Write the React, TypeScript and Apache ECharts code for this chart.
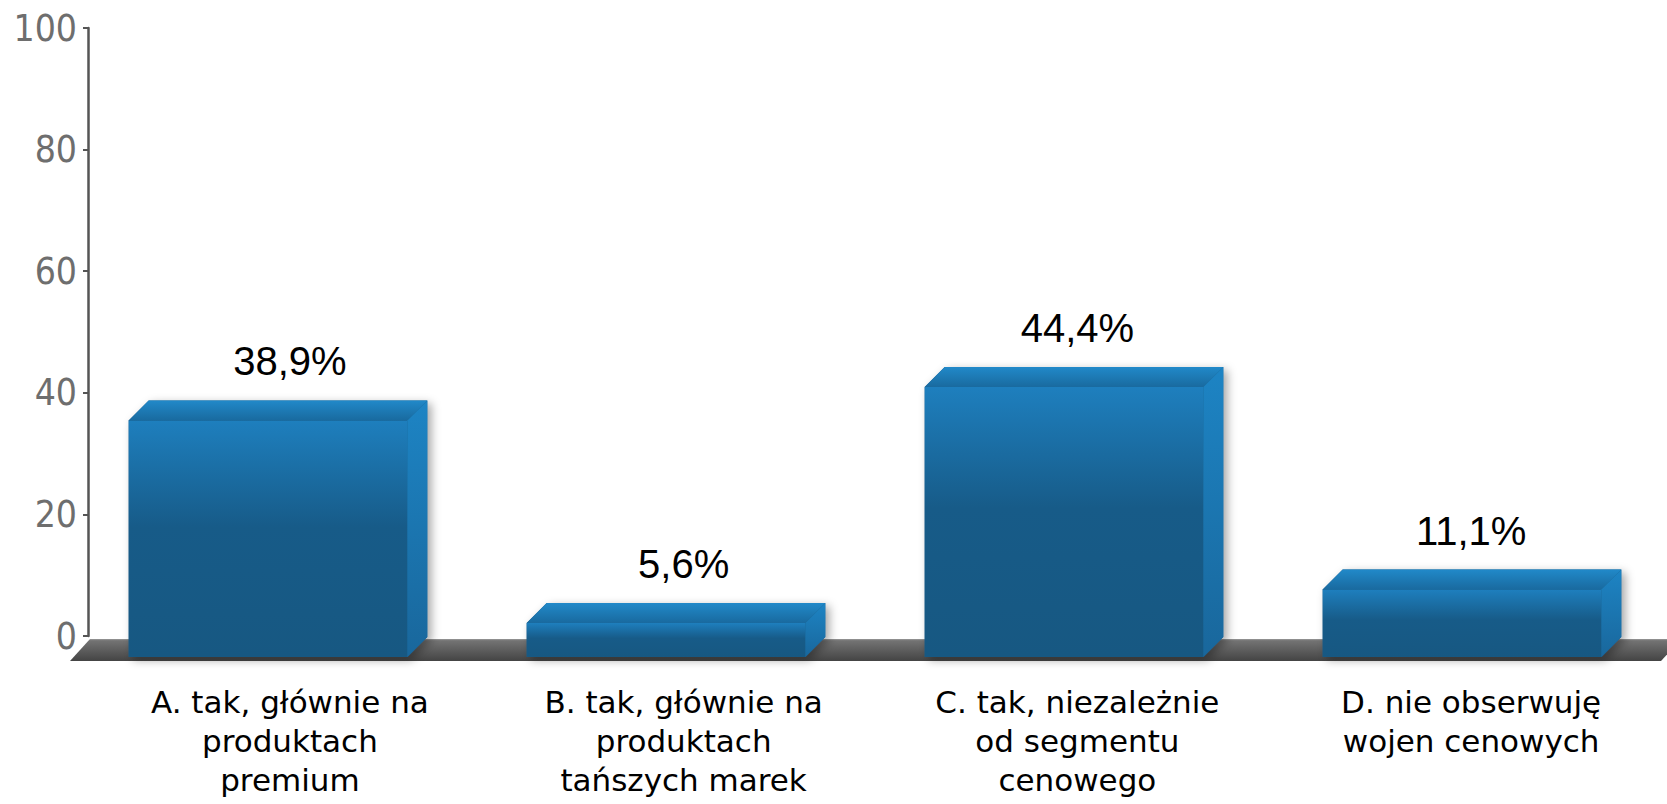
import React, { useEffect, useRef } from "react";
import * as echarts from "echarts";

const categories = [
  "A. tak, głównie na\nproduktach\npremium",
  "B. tak, głównie na\nproduktach\ntańszych marek",
  "C. tak, niezależnie\nod segmentu\ncenowego",
  "D. nie obserwuję\nwojen cenowych",
];
const values = [38.9, 5.6, 44.4, 11.1];
const valueLabels = ["38,9%", "5,6%", "44,4%", "11,1%"];
const yMin = 0;
const yMax = 100;
const yStep = 20;

const DX = 20;
const DY = 20;

function lin(stops: [number, string][]) {
  return {
    type: "linear",
    x: 0,
    y: 0,
    x2: 0,
    y2: 1,
    colorStops: stops.map(([offset, color]) => ({ offset, color })),
  };
}

function renderFloor(params: any, api: any) {
  const cs = params.coordSys;
  const y0 = api.coord([0, 0])[1];
  const xl = cs.x + 1;
  const xr = cs.x + cs.width;
  return {
    type: "polygon",
    shape: {
      points: [
        [xl, y0 + 3],
        [xr, y0 + 3],
        [xr - 20, y0 + 25],
        [xl - 20, y0 + 25],
      ],
    },
    style: {
      fill: lin([
        [0, "#9a9a9a"],
        [0.08, "#737373"],
        [1, "#444444"],
      ]),
    },
  };
}

function renderBar(params: any, api: any) {
  const i = api.value(0);
  const v = api.value(1);
  const top = api.coord([i, v]);
  const base = api.coord([i, 0]);
  const band = api.size([1, 0])[0];
  const w = band * 0.7;
  const c = top[0];
  const bx0 = c - w / 2;
  const bx1 = c + w / 2;
  const by0 = top[1] + 1;
  const by1 = base[1] + 1;
  const fx0 = bx0 - DX;
  const fx1 = bx1 - DX;
  const fy0 = by0 + DY;
  const fy1 = by1 + DY;
  return {
    type: "group",
    children: [
      {
        type: "polygon",
        shape: {
          points: [
            [fx0, fy0],
            [bx0, by0],
            [bx1, by0],
            [bx1, by1],
            [fx1, fy1],
            [fx0, fy1],
          ],
        },
        style: {
          fill: "#175a85",
          shadowBlur: 10,
          shadowColor: "rgba(0,0,0,0.35)",
          shadowOffsetX: 4,
          shadowOffsetY: 3,
        },
      },
      {
        type: "rect",
        shape: { x: fx0, y: fy0, width: fx1 - fx0, height: fy1 - fy0 },
        style: {
          fill: lin([
            [0, "#1e7fbe"],
            [0.45, "#175b88"],
            [1, "#175882"],
          ]),
        },
      },
      {
        type: "polygon",
        shape: {
          points: [
            [fx0, fy0],
            [bx0, by0],
            [bx1, by0],
            [fx1, fy0],
          ],
        },
        style: {
          fill: lin([
            [0, "#2189c9"],
            [1, "#196a9f"],
          ]),
        },
      },
      {
        type: "polygon",
        shape: {
          points: [
            [fx1, fy0],
            [bx1, by0],
            [bx1, by1],
            [fx1, fy1],
          ],
        },
        style: {
          fill: lin([
            [0, "#1d84c4"],
            [1, "#19679c"],
          ]),
        },
      },
    ],
  };
}

function renderValueLabel(params: any, api: any) {
  const i = api.value(0);
  const v = api.value(1);
  const p = api.coord([i, v]);
  return {
    type: "text",
    style: {
      text: valueLabels[i],
      x: p[0],
      y: p[1] - 38,
      align: "center",
      verticalAlign: "middle",
      fill: "#000",
      fontSize: 40,
      fontFamily: "'Liberation Sans', Arial, sans-serif",
    },
  };
}

export default function App() {
  const ref = useRef<HTMLDivElement>(null);
  useEffect(() => {
    if (!ref.current) return;
    const chart = echarts.init(ref.current, null, { renderer: "svg" });
    chart.setOption({
      animation: false,
      backgroundColor: "#ffffff",
      grid: [
        { left: 89, right: 19, top: 28, bottom: 168, containLabel: false },
        { left: 93, right: 32, top: 28, bottom: 168, containLabel: false },
      ],
      xAxis: [
        {
          type: "category",
          gridIndex: 0,
          data: categories,
          axisLine: { show: false },
          axisTick: { show: false },
          axisLabel: { show: false },
          splitLine: { show: false },
        },
        {
          type: "category",
          gridIndex: 1,
          data: categories,
          axisLine: { show: false },
          axisTick: { show: false },
          axisLabel: {
            interval: 0,
            margin: 46,
            color: "#000",
            fontSize: 31,
            lineHeight: 39,
            fontFamily: "'DejaVu Sans', sans-serif",
            align: "center",
          },
          splitLine: { show: false },
        },
      ],
      yAxis: [
        {
          type: "value",
          gridIndex: 0,
          min: yMin,
          max: yMax,
          interval: yStep,
          offset: 1,
          axisLine: { show: true, lineStyle: { color: "#555", width: 2.5 } },
          axisTick: { show: true, length: 5, lineStyle: { color: "#555", width: 2 } },
          axisLabel: {
            margin: 11,
            color: "#6e6e6e",
            fontSize: 37,
            fontFamily: "'DejaVu Sans Condensed', 'DejaVu Sans', sans-serif",
          },
          splitLine: { show: false },
        },
        {
          type: "value",
          gridIndex: 1,
          min: yMin,
          max: yMax,
          interval: yStep,
          show: false,
          splitLine: { show: false },
        },
      ],
      series: [
        {
          type: "custom",
          renderItem: renderFloor,
          xAxisIndex: 0,
          yAxisIndex: 0,
          data: [[0, 0]],
          encode: { x: 0, y: 1 },
          clip: false,
          silent: true,
          z: 1,
        },
        {
          type: "custom",
          renderItem: renderBar,
          xAxisIndex: 0,
          yAxisIndex: 0,
          data: values.map((v, i) => [i, v]),
          encode: { x: 0, y: 1 },
          clip: false,
          z: 2,
        },
        {
          type: "custom",
          renderItem: renderValueLabel,
          xAxisIndex: 1,
          yAxisIndex: 1,
          data: values.map((v, i) => [i, v]),
          encode: { x: 0, y: 1 },
          clip: false,
          z: 3,
        },
      ],
    });
    return () => chart.dispose();
  }, []);
  return (
    <div
      style={{
        position: "absolute",
        left: 0,
        top: 0,
        width: 1667,
        height: 804,
        overflow: "hidden",
        background: "#fff",
      }}
    >
      <div ref={ref} style={{ width: 1700, height: 804 }} />
    </div>
  );
}
